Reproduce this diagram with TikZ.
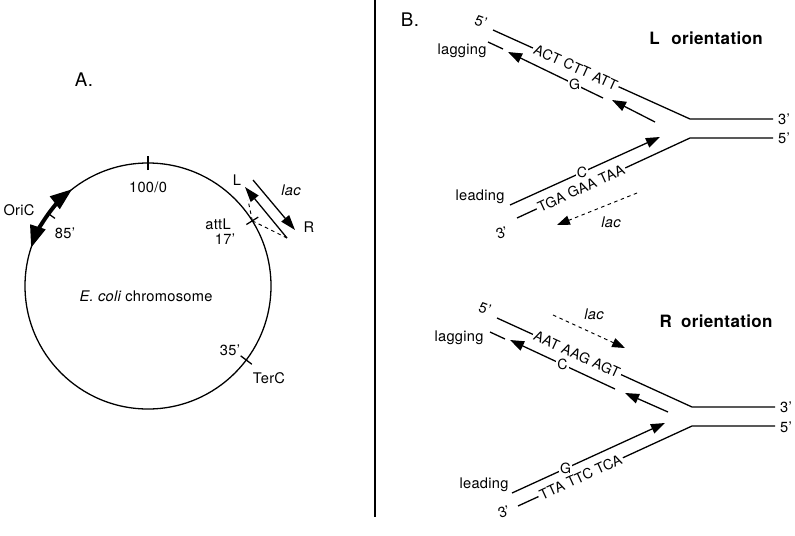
\documentclass[tikz,border=0pt]{standalone}
\usepackage{fontspec}
\setmainfont[LetterSpace=2]{TeX Gyre Heros}
\usetikzlibrary{arrows.meta,calc}

\tikzset{
  strand/.style={line width=1.1pt},
  okazaki/.style={strand,-{Triangle[length=12pt,width=8.5pt]}},
  lacdash/.style={dashed,line width=0.8pt,-{Triangle[length=11pt,width=8pt]}},
  oriarrow/.style={line width=3.4pt,-{Triangle[length=19pt,width=13pt]}},
  lbl/.style={font=\fontsize{12.5}{14}\selectfont},
  lac/.style={font=\fontsize{12.5}{14}\selectfont\itshape},
  seq/.style={sloped,fill=white,inner sep=1.5pt,font=\fontsize{12}{14}\selectfont},
  base/.style={fill=white,inner sep=1pt,font=\fontsize{12}{14}\selectfont},
  panel/.style={font=\fontsize{16}{18}\selectfont},
  title/.style={font=\fontsize{14.5}{17}\selectfont\bfseries},
}

\begin{document}
\begin{tikzpicture}[x=0.03cm,y=0.03cm]
\useasboundingbox (0,0) rectangle (795,-535);

% A. chromosome map
\node[panel] (A) at (84,-80) {A.};
\coordinate (ctr) at (148,-286);
\draw[strand] (ctr) circle[radius=123];
\draw[strand] ($(ctr)+(90:116)$) -- ($(ctr)+(90:130)$);
\draw[strand] ($(ctr)+(32:116)$) -- ($(ctr)+(32:130)$);
\draw[strand] ($(ctr)+(-37:116)$) -- ($(ctr)+(-37:130)$);
\draw[strand] ($(ctr)+(144:115)$) -- ($(ctr)+(144:123)$);
\draw[oriarrow] ($(ctr)+(144:123)$) arc[start angle=144,end angle=128,radius=123];
\draw[oriarrow] ($(ctr)+(144:123)$) arc[start angle=144,end angle=162,radius=123];

\node[lbl] (zero) at (148,-187) {100/0};
\node[lbl] (oric) at (19,-210) {OriC};
\node[lbl] (m85) at (65,-233) {85'};
\node[lbl] (attl) at (218,-224) {attL};
\node[lbl] (m17) at (225,-239) {17'};
\node[lbl] (m35) at (230,-350) {35'};
\node[lbl] (terc) at (269,-378) {TerC};
\node[lbl] (chrom) at (146,-296) {{\itshape E. coli} chromosome};

\coordinate (att) at ($(ctr)+(32:123)$);
\coordinate (lacLs) at (253,-180);
\coordinate (lacLe) at (295,-230);
\coordinate (lacRs) at (287,-238);
\coordinate (lacRe) at (245,-187);
\coordinate (lacRb) at (248,-200);
\draw[strand,-{Triangle[length=13pt,width=8.5pt]}] (lacLs) -- (lacLe);
\draw[strand,-{Triangle[length=13pt,width=8.5pt]}] (lacRs) -- (lacRe);
\draw[dashed,line width=0.8pt] (att) -- (lacRb);
\draw[dashed,line width=0.8pt] (att) -- (lacRs);
\node[lbl] (Lend) at (237,-180) {L};
\node[lbl] (Rend) at (309,-227) {R};
\node[lac] (laca) at (291,-190) {lac};

\coordinate (divT) at (375,0);
\coordinate (divB) at (375,-517);
\draw[strand] (divT) -- (divB);

% B. L orientation
\node[panel] (B) at (410,-20) {B.};
\node[title] (Ltitle) at (706,-38) {L\hspace{10pt}orientation};

\coordinate (L5) at (493,-30);
\coordinate (Lf1) at (690,-119);
\coordinate (L3e) at (773,-119);
\coordinate (L3) at (517,-218);
\coordinate (Lf2) at (690,-138);
\coordinate (L5e) at (773,-138);
\draw[strand] (L5) -- node[seq,pos=0.42] (LseqT) {ACT CTT ATT} (Lf1) -- (L3e);
\draw[strand] (L3) -- node[seq,pos=0.37] (LseqB) {TGA GAA TAA} (Lf2) -- (L5e);

\coordinate (LgA) at (488,-42);
\coordinate (LgB) at (503,-49);
\draw[strand] (LgA) -- (LgB);
\coordinate (Lok1s) at (603,-98);
\coordinate (Lok1e) at (508,-52);
\draw[okazaki] (Lok1s) -- node[base,pos=0.3] (LG) {G} (Lok1e);
\coordinate (Lok2s) at (655,-122);
\coordinate (Lok2e) at (612,-100);
\draw[okazaki] (Lok2s) -- (Lok2e);
\coordinate (Llds) at (510,-205);
\coordinate (Llde) at (660,-137);
\draw[okazaki] (Llds) -- node[base,pos=0.48] (LC) {C} (Llde);
\coordinate (Llacs) at (637,-193);
\coordinate (Llace) at (557,-225);
\draw[lacdash] (Llacs) -- (Llace);

\node[lac] (lacL) at (611,-222) {lac};
\node[lbl] (Llag) at (462,-51) {lagging};
\node[lbl] (Llead) at (480,-197) {leading};
\node[lbl,rotate=-20] (L5lab) at (481,-22) {5'};
\node[lbl,rotate=20] (L3lab) at (502,-233) {3'};
\node[lbl] (L3r) at (784,-119) {3'};
\node[lbl] (L5r) at (784,-138) {5'};

% B. R orientation
\node[title] (Rtitle) at (716,-321) {R\hspace{8pt}orientation};

\coordinate (R5) at (497,-318);
\coordinate (Rf1) at (692,-407);
\coordinate (R3e) at (775,-407);
\coordinate (R3) at (518,-506);
\coordinate (Rf2) at (692,-426);
\coordinate (R5e) at (775,-426);
\draw[strand] (R5) -- node[seq,pos=0.41] (RseqT) {AAT AAG AGT} (Rf1) -- (R3e);
\draw[strand] (R3) -- node[seq,pos=0.36] (RseqB) {TTA TTC TCA} (Rf2) -- (R5e);

\coordinate (RgA) at (490,-332);
\coordinate (RgB) at (505,-339);
\draw[strand] (RgA) -- (RgB);
\coordinate (Rok1s) at (615,-389);
\coordinate (Rok1e) at (510,-340);
\draw[okazaki] (Rok1s) -- node[base,pos=0.5] (RC) {C} (Rok1e);
\coordinate (Rok2s) at (668,-412);
\coordinate (Rok2e) at (625,-393);
\draw[okazaki] (Rok2s) -- (Rok2e);
\coordinate (Rlds) at (512,-493);
\coordinate (Rlde) at (665,-423);
\draw[okazaki] (Rlds) -- node[base,pos=0.35] (RG) {G} (Rlde);
\coordinate (Rlacs) at (553,-315);
\coordinate (Rlace) at (625,-348);
\draw[lacdash] (Rlacs) -- (Rlace);

\node[lac] (lacR) at (594,-314) {lac};
\node[lbl] (Rlag) at (459,-338) {lagging};
\node[lbl] (Rlead) at (484,-485) {leading};
\node[lbl,rotate=-20] (R5lab) at (485,-309) {5'};
\node[lbl,rotate=20] (R3lab) at (504,-512) {3'};
\node[lbl] (R3r) at (786,-407) {3'};
\node[lbl] (R5r) at (786,-427) {5'};

\end{tikzpicture}
\end{document}
